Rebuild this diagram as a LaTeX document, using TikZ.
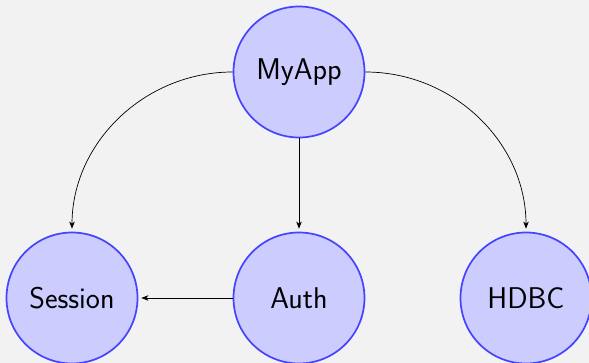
\documentclass[tikz,border=0pt]{standalone}
\usetikzlibrary{arrows.meta}
\definecolor{bgc}{RGB}{242,242,242}
\definecolor{ndline}{RGB}{68,68,255}
\definecolor{ndfill}{RGB}{204,204,255}
\begin{document}
\begin{tikzpicture}[x=1pt,y=-1pt,
  nd/.style={circle,draw=ndline,fill=ndfill,line width=1.7pt,minimum size=131pt,inner sep=0pt,font=\sffamily\fontsize{30}{36}\selectfont},
  conn/.style={-{Stealth[length=7pt,width=5.5pt,inset=2pt]},line width=0.7pt,shorten >=3pt}]
\fill[bgc] (0,0) rectangle (589,363);
\useasboundingbox (0,0) rectangle (589,363);
\node[nd] (myapp) at (299,72) {MyApp};
\node[nd] (session) at (72,298) {Session};
\node[nd] (auth) at (299,298) {Auth};
\node[nd] (hdbc) at (526,298) {HDBC};
\draw[conn] (myapp.west) to[out=180,in=90] (session.north);
\draw[conn] (myapp.south) -- (auth.north);
\draw[conn] (myapp.east) to[out=0,in=90] (hdbc.north);
\draw[conn] (auth.west) -- (session.east);
\end{tikzpicture}
\end{document}
